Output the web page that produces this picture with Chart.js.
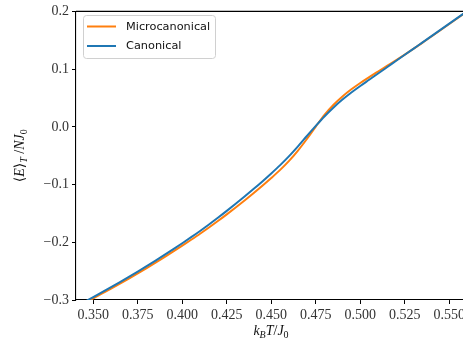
<!DOCTYPE html>
<html>
<head>
<meta charset="utf-8">
<script src="https://cdn.jsdelivr.net/npm/chart.js@4/dist/chart.umd.min.js"></script>
<style>
  html, body { margin: 0; padding: 0; background: #fff; overflow: hidden; }
  #wrap { width: 463px; height: 341px; overflow: hidden; }
  #wrap div { width: 490px; height: 341px; position: relative; }
</style>
</head>
<body>
<div id="wrap"><div><canvas id="chart"></canvas></div></div>
<script>
// temperatures k_B T / J_0
var temps = [0.345, 0.350, 0.355, 0.360, 0.365, 0.370, 0.375, 0.380, 0.385, 0.390,
             0.395, 0.400, 0.405, 0.410, 0.415, 0.420, 0.425, 0.430, 0.435, 0.440,
             0.445, 0.450, 0.455, 0.460, 0.465, 0.470, 0.475, 0.480, 0.485, 0.490,
             0.495, 0.500, 0.505, 0.510, 0.515, 0.520, 0.525, 0.530, 0.535, 0.540,
             0.545, 0.550, 0.555, 0.560];

// <E>_T / N J_0
var microE = [-0.3057, -0.2972, -0.2887, -0.2802, -0.2716, -0.2628, -0.2538, -0.2446, -0.2352, -0.2256,
              -0.2158, -0.2058, -0.1956, -0.1852, -0.1744, -0.1632, -0.1516, -0.1397, -0.1275, -0.1150,
              -0.1021, -0.0887, -0.0746, -0.0590, -0.0412, -0.0211, 0.0004, 0.0212, 0.0384, 0.0527,
              0.0650, 0.0760, 0.0861, 0.0959, 0.1056, 0.1153, 0.1252, 0.1354, 0.1458, 0.1566,
              0.1674, 0.1782, 0.1890, 0.1998];

var canonE = [-0.3035, -0.2950, -0.2864, -0.2777, -0.2689, -0.2599, -0.2507, -0.2413, -0.2317, -0.2219,
              -0.2119, -0.2017, -0.1912, -0.1804, -0.1692, -0.1576, -0.1456, -0.1333, -0.1207, -0.1078,
              -0.0945, -0.0807, -0.0663, -0.0507, -0.0337, -0.0159, 0.0016, 0.0184, 0.0336, 0.0472,
              0.0595, 0.0708, 0.0816, 0.0924, 0.1032, 0.1140, 0.1248, 0.1356, 0.1464, 0.1572,
              0.1680, 0.1788, 0.1896, 0.2004];

var xTicks = [0.350, 0.375, 0.400, 0.425, 0.450, 0.475, 0.500, 0.525, 0.550];
var yTicks = [-0.3, -0.2, -0.1, 0.0, 0.1, 0.2];

var labels = ['Microcanonical', 'Canonical'];
var colors = ['#ff7f0e', '#1f77b4'];

function toPoints(ys) {
    return temps.map(function(t, i) { return { x: t, y: ys[i] }; });
}

var serif = '"Liberation Serif", "DejaVu Serif", serif';

// 上边框、图例和坐标轴标题
var extras = {
    id: 'extras',
    afterDraw: function(chart) {
        var ctx = chart.ctx;
        var a = chart.chartArea;
        ctx.save();
        ctx.strokeStyle = '#000';
        ctx.lineWidth = 1.1;
        ctx.beginPath();
        ctx.moveTo(a.left, a.top);
        ctx.lineTo(a.right, a.top);
        ctx.stroke();

        // legend
        var bx = 83.5, by = 15.5, bw = 132, bh = 43, r = 3;
        ctx.beginPath();
        ctx.moveTo(bx + r, by);
        ctx.arcTo(bx + bw, by, bx + bw, by + bh, r);
        ctx.arcTo(bx + bw, by + bh, bx, by + bh, r);
        ctx.arcTo(bx, by + bh, bx, by, r);
        ctx.arcTo(bx, by, bx + bw, by, r);
        ctx.closePath();
        ctx.fillStyle = 'rgba(255,255,255,0.8)';
        ctx.fill();
        ctx.strokeStyle = '#d0d0d0';
        ctx.lineWidth = 1;
        ctx.stroke();
        ctx.font = '11.3px "DejaVu Sans", sans-serif';
        ctx.textBaseline = 'middle';
        ctx.textAlign = 'left';
        labels.forEach(function(lab, i) {
            var y = 26.5 + i * 19.5;
            ctx.strokeStyle = colors[i];
            ctx.lineWidth = 2;
            ctx.beginPath();
            ctx.moveTo(87, y);
            ctx.lineTo(116, y);
            ctx.stroke();
            ctx.fillStyle = '#111';
            ctx.fillText(lab, 126, y + 0.5);
        });

        // x title: k_B T / J_0
        var parts = [
            ['k', 'italic 14px ' + serif, 0],
            ['B', 'italic 10px ' + serif, 3],
            ['T', 'italic 14px ' + serif, 0],
            ['/', '14px ' + serif, 0],
            ['J', 'italic 14px ' + serif, 0],
            ['0', '10px ' + serif, 3]
        ];
        drawParts(ctx, parts, (a.left + a.right) / 2, 335);

        // y title: <E>_T / N J_0
        var yparts = [
            ['\u27E8', '14px ' + serif, 0],
            ['E', 'italic 14px ' + serif, 0],
            ['\u27E9', '14px ' + serif, 0],
            ['T', 'italic 10px ' + serif, 3],
            [' /', '14px ' + serif, 0],
            ['N', 'italic 14px ' + serif, 0],
            ['J', 'italic 14px ' + serif, 0],
            ['0', '10px ' + serif, 3]
        ];
        ctx.translate(24, (a.top + a.bottom) / 2);
        ctx.rotate(-Math.PI / 2);
        drawParts(ctx, yparts, 0, 0);
        ctx.restore();
    }
};

function drawParts(ctx, parts, cx, baseY) {
    var total = 0;
    parts.forEach(function(p) {
        ctx.font = p[1];
        total += ctx.measureText(p[0]).width;
    });
    var x = cx - total / 2;
    ctx.fillStyle = '#111';
    ctx.textAlign = 'left';
    ctx.textBaseline = 'alphabetic';
    parts.forEach(function(p) {
        ctx.font = p[1];
        ctx.fillText(p[0], x, baseY + p[2]);
        x += ctx.measureText(p[0]).width;
    });
}

new Chart(document.getElementById('chart'), {
    type: 'line',
    data: {
        datasets: [
            {
                label: labels[0],
                data: toPoints(microE),
                borderColor: colors[0],
                borderWidth: 2,
                pointRadius: 0,
                cubicInterpolationMode: 'monotone',
                order: 1
            },
            {
                label: labels[1],
                data: toPoints(canonE),
                borderColor: colors[1],
                borderWidth: 2,
                pointRadius: 0,
                cubicInterpolationMode: 'monotone',
                order: 0
            }
        ]
    },
    options: {
        responsive: true,
        maintainAspectRatio: false,
        animation: false,
        events: [],
        layout: { padding: { top: 9, right: 24, left: 0, bottom: 0 } },
        plugins: {
            legend: { display: false },
            tooltip: { enabled: false }
        },
        scales: {
            x: {
                type: 'linear',
                min: 0.3403,
                max: 0.5594,
                afterFit: function(scale) { scale.height = 41; },
                afterBuildTicks: function(scale) {
                    scale.ticks = xTicks.map(function(v) { return { value: v }; });
                },
                grid: {
                    drawOnChartArea: false,
                    drawTicks: true,
                    tickLength: 4,
                    tickColor: '#000',
                    tickWidth: 1
                },
                border: { display: true, color: '#000', width: 1.1 },
                ticks: {
                    padding: 3,
                    maxRotation: 0,
                    autoSkip: false,
                    color: '#333',
                    font: { family: serif, size: 14 },
                    callback: function(v) { return v.toFixed(3); }
                }
            },
            y: {
                min: -0.3,
                max: 0.2,
                afterFit: function(scale) { scale.width = 76; },
                afterBuildTicks: function(scale) {
                    scale.ticks = yTicks.map(function(v) { return { value: v }; });
                },
                grid: {
                    drawOnChartArea: false,
                    drawTicks: true,
                    tickLength: 4,
                    tickColor: '#000',
                    tickWidth: 1
                },
                border: { display: true, color: '#000', width: 1.1 },
                ticks: {
                    padding: 3,
                    color: '#333',
                    font: { family: serif, size: 14 },
                    callback: function(v) {
                        var s = Math.abs(v).toFixed(1);
                        return v < -1e-9 ? '\u2212' + s : s;
                    }
                }
            }
        }
    },
    plugins: [extras]
});
</script>
</body>
</html>
